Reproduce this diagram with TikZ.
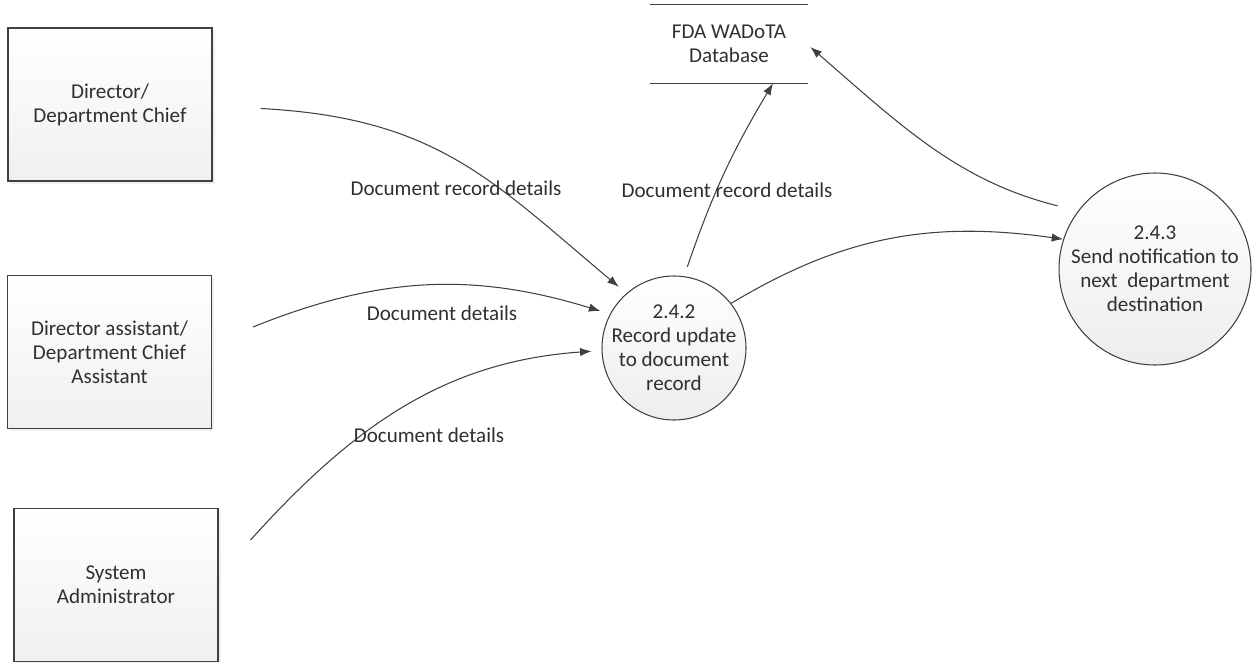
\documentclass[tikz,border=0pt]{standalone}
\usepackage{fontspec}
\setmainfont{Carlito}
\usetikzlibrary{arrows.meta,calc,shadows}

\definecolor{linegray}{HTML}{404040}
\definecolor{textgray}{HTML}{303030}

\tikzset{
  entity/.style={draw=linegray, line width=0.6pt, top color=white, bottom color=black!6,
    minimum width=40.8mm, minimum height=30.6mm, align=center, text=textgray,
    drop shadow={shadow xshift=0.5mm, shadow yshift=-0.5mm, opacity=0.12}},
  process/.style={circle, draw=linegray, line width=0.6pt, top color=white, bottom color=black!7,
    inner sep=0pt, align=center, text=textgray},
  store/.style={minimum width=31.6mm, minimum height=15.6mm, align=center, text=textgray},
  flow/.style={draw=linegray, line width=0.6pt, -{Latex[length=2.3mm,width=1.7mm]}},
  flowlabel/.style={text=textgray}
}

\begin{document}
\begin{tikzpicture}[x=0.2mm, y=-0.2mm, font=\fontsize{12}{13.7}\selectfont]
      \useasboundingbox (0,0) rectangle (1252,662);

      \node[entity] (dir) at (110,104.5) {Director/\\Department Chief};
      \node[entity] (asst) at (109.5,352) {Director assistant/\\Department Chief\\Assistant};
      \node[entity] (admin) at (116,585) {System\\Administrator};

      \node[store] (db) at (729,44) {FDA WADoTA\\Database};
      \draw[linegray, line width=0.6pt] (db.north west) -- (db.north east);
      \draw[linegray, line width=0.6pt] (db.south west) -- (db.south east);

      \node[process, minimum size=28.8mm, inner sep=-1.3mm] (p242) at (674,348) {2.4.2\\Record update\\to document\\record};
      \node[process, minimum size=38.4mm] (p243) at (1155,269) {2.4.3\\Send notification to\\next\ \ department\\destination};

      \draw[flow, shorten >=2mm] ($(dir.east)+(48,4)$) to[out=-3, in=140, looseness=1.1] (p242.131);
      \draw[flow, shorten >=2mm] ($(asst.east)+(41,-25)$) to[out=22, in=163] (p242.152);
      \draw[flow, shorten >=2mm] ($(admin.east)+(32,-45)$) to[out=48, in=184] (p242.182);
      \draw[flow, shorten <=2mm] (p242.82) to[out=71, in=239] ($(db.south)+(44,0)$);
      \draw[flow] (p242.38) to[out=31, in=172] (p243.162);
      \draw[flow, shorten <=4.2mm] (p243.143) to[out=166, in=-41] ($(db.east)+(2,3)$);

      % ラベル
      \node[flowlabel] (l1) at (456,188) {Document record details};
      \node[flowlabel] (l2) at (442,313) {Document details};
      \node[flowlabel] (l3) at (429,435) {Document details};
      \node[flowlabel] (l4) at (727,190) {Document record details};
\end{tikzpicture}
\end{document}
